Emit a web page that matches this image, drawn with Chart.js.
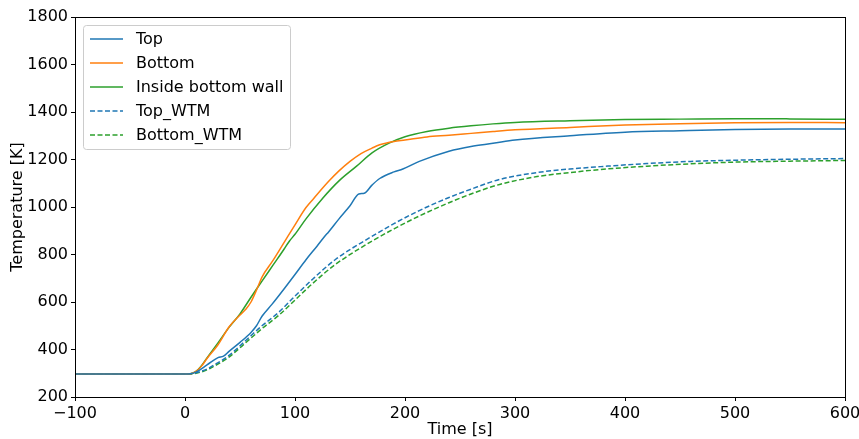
<!DOCTYPE html>
<html>
<head>
<meta charset="utf-8">
<script src="https://cdn.jsdelivr.net/npm/chart.js@4"></script>
<style>
  html, body { margin: 0; padding: 0; background: #fff; }
  #wrap { width: 859px; height: 439px; }
</style>
</head>
<body>
<div id="wrap"><canvas id="tempChart" width="859" height="439"></canvas></div>
<script>
// Measured temperatures
const timeTop = [-100, 0, 5, 10, 20, 30, 35, 40, 50, 60, 65, 70, 79, 90, 100, 110, 120, 128, 130, 140, 150, 158, 163, 170, 177, 190, 198, 213, 240, 260, 280, 300, 350, 400, 450, 500, 550, 600];
const tempTop = [297, 297, 298, 305, 335, 366, 372, 392, 430, 472, 500, 540, 590, 655, 716, 778, 835, 882, 892, 950, 1005, 1055, 1058, 1092, 1120, 1148, 1160, 1192, 1235, 1255, 1268, 1282, 1300, 1315, 1321, 1326, 1328, 1328];

const timeBottom = [-100, 0, 5, 10, 15, 20, 30, 40, 50, 55, 60, 66, 70, 80, 90, 100, 110, 117, 130, 140, 150, 160, 170, 177, 190, 200, 220, 240, 260, 280, 300, 350, 400, 450, 500, 550, 600];
const tempBottom = [297, 297, 298, 308, 330, 362, 420, 495, 545, 568, 600, 661, 705, 775, 850, 925, 998, 1036, 1105, 1152, 1192, 1225, 1248, 1262, 1276, 1282, 1295, 1302, 1310, 1318, 1325, 1335, 1345, 1351, 1355, 1356, 1355];

const timeWall = [-100, 0, 5, 10, 15, 20, 30, 40, 50, 60, 66, 70, 80, 90, 95, 100, 110, 125, 140, 156, 170, 186, 200, 220, 240, 260, 280, 300, 350, 400, 450, 500, 550, 600];
const tempWall = [297, 297, 298, 308, 332, 365, 428, 493, 550, 620, 661, 688, 755, 822, 857, 885, 950, 1036, 1110, 1172, 1228, 1270, 1296, 1318, 1332, 1342, 1350, 1356, 1363, 1368, 1370, 1372, 1371, 1369];

// Model (WTM) results
const timeWtm = [-100, 0, 10, 20, 25, 40, 55, 70, 85, 100, 116, 137, 168, 190, 213, 240, 260, 286, 320, 350, 378, 420, 460, 500, 550, 600];
const tempTopWtm = [297, 297, 302, 318, 331, 375, 437, 500, 556, 625, 696, 780, 871, 930, 985, 1040, 1075, 1116, 1145, 1160, 1170, 1183, 1192, 1197, 1201, 1204];
const tempBottomWtm = [297, 297, 300, 314, 326, 368, 428, 488, 543, 608, 678, 759, 851, 908, 962, 1018, 1055, 1095, 1128, 1145, 1158, 1172, 1182, 1189, 1193, 1196];

const xTicks = [-100, 0, 100, 200, 300, 400, 500, 600];
const yTicks = [200, 400, 600, 800, 1000, 1200, 1400, 1600, 1800];

const BLUE = '#1f77b4', ORANGE = '#ff7f0e', GREEN = '#2ca02c';
const FONT = 'DejaVu Sans';
const FONT_SIZE = 16;

function pts(xs, ys) {
    return xs.map((x, i) => ({ x: x, y: ys[i] }));
}

function series(label, xs, ys, color, dashed) {
    return {
        label: label,
        data: pts(xs, ys),
        borderColor: color,
        backgroundColor: color,
        borderWidth: 1.5,
        borderDash: dashed ? [5, 2.5] : [],
        pointRadius: 0,
        showLine: true,
        cubicInterpolationMode: 'monotone',
        fill: false
    };
}

// Box around the plot plus a matplotlib-style legend inside it
const framePlugin = {
    id: 'frame',
    afterDraw(chart) {
        const { ctx, chartArea: a } = chart;
        ctx.save();
        ctx.strokeStyle = '#000';
        ctx.lineWidth = 1;
        ctx.strokeRect(a.left + 0.5, a.top + 0.5, a.right - a.left, a.bottom - a.top);

        const x0 = 83, y0 = 25, w = 207, h = 124;
        ctx.fillStyle = 'rgba(255,255,255,0.8)';
        ctx.strokeStyle = '#cccccc';
        ctx.beginPath();
        ctx.roundRect(x0 + 0.5, y0 + 0.5, w, h, 3);
        ctx.fill();
        ctx.stroke();

        ctx.font = FONT_SIZE + 'px "' + FONT + '"';
        ctx.textBaseline = 'middle';
        chart.data.datasets.forEach((ds, i) => {
            const y = y0 + 14 + i * 24;
            ctx.strokeStyle = ds.borderColor;
            ctx.lineWidth = 1.5;
            ctx.setLineDash(ds.borderDash);
            ctx.beginPath();
            ctx.moveTo(90, y);
            ctx.lineTo(123, y);
            ctx.stroke();
            ctx.setLineDash([]);
            ctx.fillStyle = '#000';
            ctx.fillText(ds.label, 136, y + 1);
        });
        ctx.restore();
    }
};

const ctx = document.getElementById('tempChart').getContext('2d');
new Chart(ctx, {
    type: 'scatter',
    data: {
        datasets: [
            series('Top', timeTop, tempTop, BLUE, false),
            series('Bottom', timeBottom, tempBottom, ORANGE, false),
            series('Inside bottom wall', timeWall, tempWall, GREEN, false),
            series('Top_WTM', timeWtm, tempTopWtm, BLUE, true),
            series('Bottom_WTM', timeWtm, tempBottomWtm, GREEN, true)
        ]
    },
    options: {
        responsive: false,
        animation: false,
        events: [],
        layout: { padding: { left: 0, top: 17, right: 14, bottom: 0 } },
        plugins: {
            legend: { display: false },
            tooltip: { enabled: false }
        },
        scales: {
            x: {
                type: 'linear',
                min: -100,
                max: 600,
                afterBuildTicks: s => { s.ticks = xTicks.map(v => ({ value: v })); },
                afterFit: s => { s.height = 42; s.paddingLeft = 0; s.paddingRight = 0; },
                grid: { drawOnChartArea: false, drawTicks: true, tickLength: 4, color: '#000' },
                border: { display: true, color: '#000' },
                ticks: {
                    color: '#000',
                    padding: 3,
                    maxRotation: 0,
                    font: { family: FONT, size: FONT_SIZE },
                    callback: v => String(v).replace('-', '\u2212')
                },
                title: {
                    display: true,
                    text: 'Time [s]',
                    color: '#000',
                    padding: { top: 0, bottom: 0 },
                    font: { family: FONT, size: FONT_SIZE }
                }
            },
            y: {
                type: 'linear',
                min: 200,
                max: 1800,
                afterBuildTicks: s => { s.ticks = yTicks.map(v => ({ value: v })); },
                afterFit: s => { s.width = 75; s.paddingTop = 0; s.paddingBottom = 0; },
                grid: { drawOnChartArea: false, drawTicks: true, tickLength: 4, color: '#000' },
                border: { display: true, color: '#000' },
                ticks: {
                    color: '#000',
                    padding: 3,
                    font: { family: FONT, size: FONT_SIZE },
                    callback: v => String(v)
                },
                title: {
                    display: true,
                    text: 'Temperature [K]',
                    color: '#000',
                    padding: { top: 8, bottom: 2 },
                    font: { family: FONT, size: FONT_SIZE }
                }
            }
        }
    },
    plugins: [framePlugin]
});
</script>
</body>
</html>
